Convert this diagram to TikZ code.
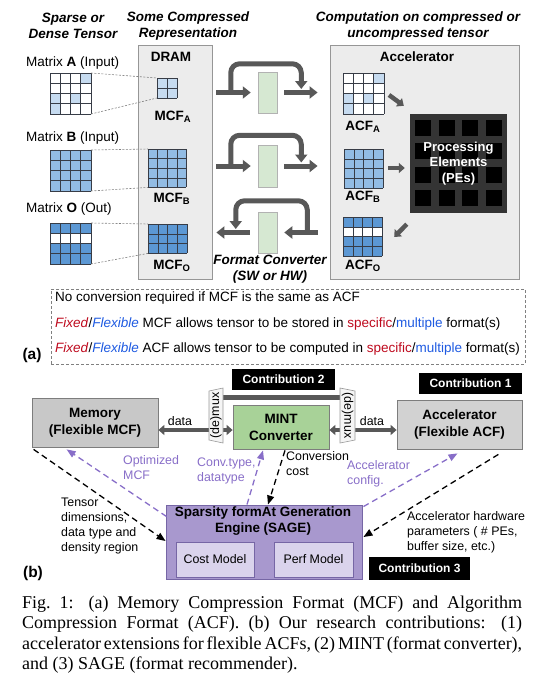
\documentclass[tikz,border=0pt]{standalone}
\usepackage{fontspec}
\setmainfont{Liberation Serif}
\setsansfont{Liberation Sans}
\usepackage{xcolor}
\usepackage{tikz}
\usetikzlibrary{arrows.meta, positioning, calc}

\definecolor{panelgray}{RGB}{236,236,236}
\definecolor{paneledge}{RGB}{150,150,150}
\definecolor{gridgray}{RGB}{55,60,70}
\definecolor{sparseblue}{RGB}{198,219,240}
\definecolor{denseblue}{RGB}{146,188,228}
\definecolor{outblue}{RGB}{92,152,212}
\definecolor{convgreen}{RGB}{214,232,210}
\definecolor{pipegray}{RGB}{88,88,88}
\definecolor{pegray}{RGB}{52,52,52}
\definecolor{memgray}{RGB}{200,200,200}
\definecolor{accgray}{RGB}{210,210,210}
\definecolor{unitedge}{RGB}{125,125,125}
\definecolor{mintgreen}{RGB}{168,210,152}
\definecolor{sagepurple}{RGB}{168,152,206}
\definecolor{sageedge}{RGB}{118,102,165}
\definecolor{modellilac}{RGB}{218,211,236}
\definecolor{hintpurple}{RGB}{136,110,200}
\definecolor{fixedred}{RGB}{190,10,30}
\definecolor{flexblue}{RGB}{30,90,225}

\newcommand{\fsA}{\fontsize{13.5}{16}\selectfont}
\newcommand{\fsB}{\fontsize{12.4}{15}\selectfont}

% name, x, y, cols, rows, cell, base fill, cells col/row/colour
\newcommand{\tgrid}[8]{%
    \fill[#7] (#2,#3) rectangle ({#2+#4*#6},{#3+#5*#6});
    \foreach \ci/\cj/\cc in {#8}
        \fill[fill=\cc] ({#2+\ci*#6},{#3+\cj*#6}) rectangle ++(#6,#6);
    \foreach \gi in {0,...,#4}
        \draw[gridln] ({#2+\gi*#6},#3) -- ++(0,{#5*#6});
    \foreach \gj in {0,...,#5}
        \draw[gridln] (#2,{#3+\gj*#6}) -- ++({#4*#6},0);
    \coordinate (#1-nw) at (#2,#3);
    \coordinate (#1-ne) at ({#2+#4*#6},#3);
    \coordinate (#1-sw) at (#2,{#3+#5*#6});
    \coordinate (#1-se) at ({#2+#4*#6},{#3+#5*#6});
}

\begin{document}
\begin{tikzpicture}[x=1pt, y=-1pt,
    txt/.style={font=\sffamily\fsA, inner sep=0pt},
    hdr/.style={font=\sffamily\bfseries\itshape\fsA, align=center, inner sep=0pt},
    bold/.style={font=\sffamily\bfseries\fsA, inner sep=0pt},
    small/.style={font=\sffamily\fsB, inner sep=0pt, align=left, anchor=west},
    panel/.style={draw=paneledge, fill=panelgray, line width=0.8pt, inner sep=0pt},
    gridln/.style={draw=gridgray, line width=0.6pt},
    leader/.style={draw=gray, dash pattern=on 2pt off 1.5pt, line width=0.6pt},
    convbox/.style={draw=gray!60, fill=convgreen, line width=0.5pt, minimum width=19pt, inner sep=0pt},
    pipe/.style={draw=pipegray, line width=5pt, -{Triangle[length=8pt,width=12pt]}},
    bypass/.style={pipe, rounded corners=9pt},
    feed/.style={draw=pipegray, line width=4.5pt, -{Triangle[length=6pt,width=10pt]}},
    blk/.style={fill=black, text=white, font=\sffamily\bfseries\fontsize{12}{14}\selectfont, inner sep=0pt},
    unitbox/.style={draw=unitedge, line width=0.8pt, align=center, inner sep=0pt,
        font=\sffamily\bfseries\fontsize{13.5}{17}\selectfont},
    modelbox/.style={draw=sageedge, fill=modellilac, line width=0.8pt, inner sep=0pt,
        minimum height=35pt, font=\sffamily\fsB},
    dataarr/.style={draw=pipegray, line width=4.5pt, {Triangle[length=6pt,width=10pt]}-{Triangle[length=6pt,width=10pt]}},
    muxshape/.style={fill=gray!8, draw=gray!80, line width=0.6pt},
    hintblk/.style={draw=black, line width=1.3pt, dash pattern=on 6pt off 4pt, -{Triangle[length=9pt,width=7pt]}},
    hintpur/.style={hintblk, draw=hintpurple}]

    \useasboundingbox (0,0) rectangle (545,683);

    % Column headers
    \node[hdr] (hdrtensor) at (73,26) {Sparse or\\Dense Tensor};
    \node[hdr] (hdrmcf) at (188,26) {Some Compressed\\Representation};
    \node[hdr] (hdracf) at (418,26) {Computation on compressed or\\uncompressed tensor};

    % DRAM and Accelerator panels
    \node[panel, minimum width=74pt, minimum height=234pt] (dram) at (175,162) {};
    \node[panel, minimum width=189pt, minimum height=234pt] (accel) at (424.5,162) {};
    \node[bold] (dramlbl) at (171,57) {DRAM};
    \node[bold] (accellbl) at (417,57) {Accelerator};

    % Tensors and their MCF copies
    \node[txt, anchor=west] (labA) at (26,63) {Matrix \textbf{A} (Input)};
    \node[txt, anchor=west] (labB) at (26,138) {Matrix \textbf{B} (Input)};
    \node[txt, anchor=west] (labO) at (26,209) {Matrix \textbf{O} (Out)};

    \tgrid{matA}{50}{73}{4}{4}{10.25}{white}{3/0/sparseblue, 0/2/sparseblue, 2/2/sparseblue, 0/3/sparseblue}
    \tgrid{matB}{50}{150}{4}{4}{10.25}{denseblue}{0/0/denseblue}
    \tgrid{matO}{50}{223}{4}{4}{10.25}{outblue}{0/1/white, 1/1/white, 2/1/white, 3/1/white}

    \tgrid{mcfA}{157}{78}{2}{2}{10}{sparseblue}{0/0/sparseblue}
    \tgrid{mcfB}{148}{149}{4}{4}{9.6}{denseblue}{0/0/denseblue}
    \tgrid{mcfO}{148}{224}{4}{3}{9.8}{outblue}{0/0/outblue}

    \draw[leader] (matA-ne) -- (mcfA-nw);
    \draw[leader] (matA-se) -- (mcfA-sw);
    \draw[leader] (matB-ne) -- (mcfB-nw);
    \draw[leader] (matB-se) -- (mcfB-sw);
    \draw[leader] (matO-ne) -- (mcfO-nw);
    \draw[leader] (matO-se) -- (mcfO-sw);

    \node[bold] (mcfAlbl) at (173,117) {MCF\textsubscript{A}};
    \node[bold] (mcfBlbl) at (172,199) {MCF\textsubscript{B}};
    \node[bold] (mcfOlbl) at (172,266) {MCF\textsubscript{O}};

    % Format converters
    \node[convbox, minimum height=41pt] (cv1) at (267.5,92.5) {};
    \node[convbox, minimum height=42pt] (cv2) at (267.5,166) {};
    \node[convbox, minimum height=41pt] (cv3) at (267.5,232.5) {};

    \draw[pipe] ($(dram.east |- cv1.west)+(4,0)$) -- ($(cv1.west)+(-7,0)$);
    \draw[pipe] ($(cv1.east)+(7,0)$) -- ($(accel.west |- cv1.east)+(-12,0)$);
    \draw[bypass] ($(cv1.west)+(-27,0)$) -- ($(cv1.north west)+(-27,-8)$)
        -- ($(cv1.north east)+(24,-8)$) -- ($(cv1.east)+(24,-3.5)$);

    \draw[pipe] ($(dram.east |- cv2.west)+(4,0)$) -- ($(cv2.west)+(-7,0)$);
    \draw[pipe] ($(cv2.east)+(7,0)$) -- ($(accel.west |- cv2.east)+(-12,0)$);
    \draw[bypass] ($(cv2.west)+(-27,0)$) -- ($(cv2.north west)+(-27,-9.5)$)
        -- ($(cv2.north east)+(24,-9.5)$) -- ($(cv2.east)+(24,-3.5)$);

    \draw[pipe] ($(cv3.west)+(-8,0)$) -- ($(dram.east |- cv3.west)+(4,0)$);
    \draw[pipe] ($(accel.west |- cv3.east)+(-12,0)$) -- ($(cv3.east)+(7,0)$);
    \draw[bypass] ($(cv3.east)+(30,0)$) -- ($(cv3.north east)+(30,-11)$)
        -- ($(cv3.north west)+(-22,-11)$) -- ($(cv3.west)+(-22,-3.5)$);

    \node[hdr] (convlbl) at (270,269.5) {Format Converter\\(SW or HW)};

    % Accelerator side
    \tgrid{acfA}{343}{73}{4}{4}{10.25}{white}{3/0/sparseblue, 0/2/sparseblue, 2/2/sparseblue, 0/3/sparseblue}
    \tgrid{acfB}{344}{149}{4}{4}{9.8}{denseblue}{0/0/denseblue}
    \tgrid{acfO}{343}{217}{4}{4}{9.8}{outblue}{0/1/white, 1/1/white, 2/1/white, 3/1/white}

    \node[bold] (acfAlbl) at (363,127) {ACF\textsubscript{A}};
    \node[bold] (acfBlbl) at (363,197) {ACF\textsubscript{B}};
    \node[bold] (acfOlbl) at (363,266) {ACF\textsubscript{O}};

    \node[fill=pegray, minimum width=97pt, minimum height=99pt, inner sep=0pt] (pe) at (458.5,163.5) {};
    \foreach \i in {0,...,3}
        \foreach \j in {0,...,3}
            \fill[black] ($(pe.north west)+(5.5+\i*23.5,6+\j*23.5)$) rectangle ++(16,16);
    \node[font=\sffamily\bfseries\fontsize{13}{15.5}\selectfont, text=white, align=center, inner sep=0pt]
        (pelbl) at (pe.center) {Processing\\Elements\\(PEs)};

    \draw[feed] ($(acfA-ne)+(5,22)$) -- ($(pe.north west)+(-6,-8)$);
    \draw[feed] ($(pe.west -| acfB-ne)+(5,4.5)$) -- ($(pe.west)+(-5,4.5)$);
    \draw[feed] ($(pe.south west)+(-3,11)$) -- ($(acfO-ne)+(12,20)$);

    % Notes
    \node[draw=gray, dash pattern=on 3pt off 2pt, line width=0.9pt, minimum width=474pt,
        minimum height=75pt, inner sep=0pt] (notes) at (288,326.5) {};
    \node[txt, anchor=west] (note1) at (55,298) {No conversion required if MCF is the same as ACF};
    \node[txt, anchor=west] (note2) at (55,324) {\textcolor{fixedred}{\textit{Fixed}}/\textcolor{flexblue}{\textit{Flexible}} MCF allows tensor to be stored in \textcolor{fixedred}{specific}/\textcolor{flexblue}{multiple} format(s)};
    \node[txt, anchor=west] (note3) at (55,349) {\textcolor{fixedred}{\textit{Fixed}}/\textcolor{flexblue}{\textit{Flexible}} ACF allows tensor to be computed in \textcolor{fixedred}{specific}/\textcolor{flexblue}{multiple} format(s)};
    \node[font=\sffamily\bfseries\fontsize{15.5}{18}\selectfont, inner sep=0pt] (taga) at (32,355) {(a)};

    % Part (b): contributions
    \node[blk, minimum width=103pt, minimum height=21pt] (contr2) at (283.5,379.5) {Contribution 2};
    \node[blk, minimum width=103pt, minimum height=21pt] (contr1) at (470.5,383.5) {Contribution 1};
    \node[blk, minimum width=101pt, minimum height=23pt] (contr3) at (419.5,568.5) {Contribution 3};

    \node[unitbox, fill=memgray, minimum width=126pt, minimum height=49pt] (mem) at (95,422.5) {Memory\\(Flexible MCF)};
    \node[unitbox, fill=mintgreen, minimum width=96pt, minimum height=44pt] (mint) at (281,427) {MINT\\Converter};
    \node[unitbox, fill=accgray, minimum width=125pt, minimum height=49pt] (acc) at (459.5,424.5) {Accelerator\\(Flexible ACF)};

    \draw[dataarr] ($(mem.east)+(0,7.5)$) -- ($(mint.west)+(0,3)$);
    \draw[dataarr] ($(mint.east)+(0,3)$) -- ($(acc.west)+(0,5.5)$);
    \node[font=\sffamily\fsB, inner sep=0pt] (datal) at (180,421) {data};
    \node[font=\sffamily\fsB, inner sep=0pt] (datar) at (372,421) {data};

    % (de)mux pair
    \coordinate (muxl) at (216,415.5);
    \coordinate (muxr) at (347.5,415.5);
    \draw[draw=pipegray, line width=5pt] ($(muxl)+(4,-18.5)$) -- ($(muxr)+(-4,-18.5)$);
    \draw[muxshape] ($(muxl)+(-7,-24.5)$) -- ($(muxl)+(7,-27.5)$) -- ($(muxl)+(7,27.5)$)
        -- ($(muxl)+(-7,24.5)$) -- cycle;
    \draw[muxshape] ($(muxr)+(-7.5,-27.5)$) -- ($(muxr)+(7.5,-24.5)$) -- ($(muxr)+(7.5,24.5)$)
        -- ($(muxr)+(-7.5,27.5)$) -- cycle;
    \node[font=\sffamily\fsB, inner sep=0pt, rotate=90] (muxltxt) at (muxl) {(de)mux};
    \node[font=\sffamily\fsB, inner sep=0pt, rotate=-90] (muxrtxt) at (muxr) {(de)mux};

    % SAGE
    \node[draw=sageedge, fill=sagepurple, line width=0.9pt, minimum width=196pt,
        minimum height=74pt, inner sep=0pt] (sage) at (264,542) {};
    \node[bold, align=center] (sagelbl) at (263,521) {Sparsity formAt Generation\\Engine (SAGE)};
    \node[modelbox, minimum width=78pt] (cost) at (215,559.5) {Cost Model};
    \node[modelbox, minimum width=79pt] (perf) at (313.5,559.5) {Perf Model};

    % Hints between units and SAGE
    \draw[hintblk] ($(mem.south west)+(2,2)$) -- ($(sage.west)+(0,-1)$);
    \draw[hintpur] ($(sage.north west)+(1,12)$) -- ($(mem.south west)+(35,2)$);
    \draw[hintpur] ($(sage.north)+(-17,0)$) -- ($(mint.south)+(-18,1)$);
    \draw[hintblk] ($(mint.south)+(4,1)$) -- ($(sage.north)+(4,0)$);
    \draw[hintpur] ($(sage.north east)+(1,2)$) -- ($(acc.south)+(-2,4)$);
    \draw[hintblk] ($(acc.south east)+(-24,5)$) -- ($(sage.east)+(1,-5)$);

    \node[small, text=hintpurple] (optl) at (123,467.5) {Optimized\\MCF};
    \node[small, text=hintpurple] (convl) at (197,470.5) {Conv.type,\\datatype};
    \node[small] (costl) at (286,463.5) {Conversion\\cost};
    \node[small, text=hintpurple] (cfgl) at (347,474) {Accelerator\\config.};
    \node[small] (hwl) at (407,532) {Accelerator hardware\\parameters ( \# PEs,\\buffer size, etc.)};
    \node[small] (tensl) at (61,526.5) {Tensor\\dimensions,\\data type and\\density region};
    \node[font=\sffamily\bfseries\fontsize{15.5}{18}\selectfont, inner sep=0pt] (tagb) at (33,573) {(b)};

    % Caption
    \node[anchor=north west, inner sep=0pt, text width=500pt, align=justify,
        font=\rmfamily\fontsize{18}{20.2}\selectfont] (caption) at (22,596)
        {\tolerance=10000 \hyphenpenalty=10000 \spaceskip=0.25em plus 0.3em minus 0.13em
        Fig.~1: (a) Memory Compression Format (MCF) and Algorithm\linebreak
        Compression Format (ACF). (b) Our research contributions: (1)\linebreak
        accelerator extensions for flexible ACFs, (2) MINT (format converter),\linebreak
        and (3) SAGE (format recommender).};
\end{tikzpicture}
\end{document}
